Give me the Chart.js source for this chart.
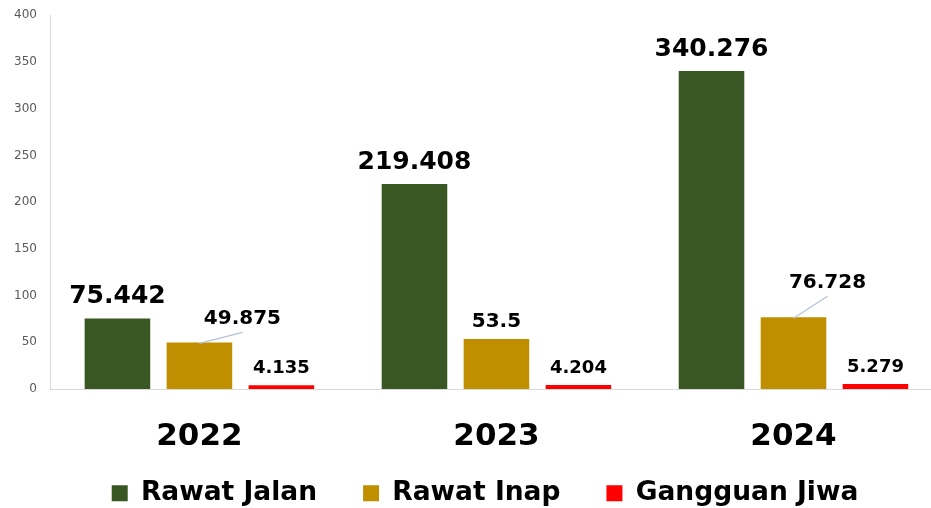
<!DOCTYPE html>
<html>
<head>
<meta charset="utf-8">
<script src="https://cdn.jsdelivr.net/npm/chart.js@4/dist/chart.umd.min.js"></script>
<style>
  html, body { margin: 0; padding: 0; background: #ffffff; overflow: hidden; }
  #wrap { width: 942px; height: 508px; overflow: hidden; position: relative; }
  #c { position: absolute; left: 0; top: -6px; }
</style>
</head>
<body>
<div id="wrap"><canvas id="c" width="942" height="514"></canvas></div>
<script>
// ---- data ----
const categories = ['2022', '2023', '2024'];
const seriesNames = ['Rawat Jalan', 'Rawat Inap', 'Gangguan Jiwa'];
const rawatJalan = [75.442, 219.408, 340.276];
const rawatInap = [49.875, 53.5, 76.728];
const gangguanJiwa = [4.135, 4.204, 5.279];
const yMin = 0, yMax = 400, yStep = 50;

// ---- styling ----
const colors = ['#385723', '#bf8f00', '#ff0000'];
const labelFonts = [25, 20, 18];     // data-label font size per series
const labelGaps = [15, 12, 12];      // gap between bar top and label baseline
// manual label offsets (series index -> category index -> [dx, dyExtra, leader])
const labelOffsets = {
  1: { 0: [43, 6, true], 2: [34, 17, true] }
};
const legendTop = 440;     // where the legend box should start (canvas coords)
const legendShiftX = 14;   // horizontal nudge of the legend row

const dataLabelPlugin = {
  id: 'dataLabels',
  afterDatasetsDraw(chart) {
    const ctx = chart.ctx;
    chart.data.datasets.forEach((ds, di) => {
      const meta = chart.getDatasetMeta(di);
      meta.data.forEach((el, i) => {
        const v = ds.data[i];
        const off = (labelOffsets[di] && labelOffsets[di][i]) || [0, 0, false];
        const x = el.x + off[0];
        const y = el.y - labelGaps[di] - off[1];
        ctx.save();
        if (off[2]) {
          ctx.strokeStyle = '#b4c1d6';
          ctx.lineWidth = 1.2;
          ctx.beginPath();
          ctx.moveTo(el.x, el.y + 1);
          ctx.lineTo(x, y + 8);
          ctx.stroke();
        }
        ctx.font = 'bold ' + labelFonts[di] + 'px "DejaVu Sans"';
        ctx.fillStyle = '#000000';
        ctx.textAlign = 'center';
        ctx.textBaseline = 'alphabetic';
        ctx.fillText(String(v), x, y);
        ctx.restore();
      });
    });
  }
};

const legendPlacePlugin = {
  id: 'legendPlace',
  afterLayout(chart) {
    const lg = chart.legend;
    if (!lg) return;
    const dy = legendTop - lg.top;
    lg.top += dy; lg.bottom += dy;
    lg.left += legendShiftX; lg.right += legendShiftX;
  }
};

new Chart(document.getElementById('c'), {
  type: 'bar',
  data: {
    labels: categories,
    datasets: [
      { label: seriesNames[0], data: rawatJalan, backgroundColor: colors[0] },
      { label: seriesNames[1], data: rawatInap, backgroundColor: colors[1] },
      { label: seriesNames[2], data: gangguanJiwa, backgroundColor: colors[2] }
    ]
  },
  options: {
    responsive: false,
    animation: false,
    categoryPercentage: 0.828,
    barPercentage: 0.8,
    layout: { padding: { left: 0, right: 0, top: 14, bottom: -59.5 } },
    scales: {
      x: {
        grid: { display: false, drawTicks: false },
        border: { display: true, color: '#d9d9d9', width: 1 },
        ticks: {
          color: '#000000',
          padding: 29.4,
          font: { family: '"DejaVu Sans"', size: 31, weight: 'bold' }
        }
      },
      y: {
        min: yMin, max: yMax,
        grid: { display: false, drawTicks: false },
        border: { display: true, color: '#d9d9d9', width: 1 },
        ticks: {
          stepSize: yStep,
          color: '#595959',
          padding: 14,
          font: { family: '"DejaVu Sans"', size: 12 }
        }
      }
    },
    plugins: {
      legend: {
        position: 'bottom',
        labels: {
          color: '#000000',
          boxWidth: 16,
          boxHeight: 16,
          padding: 46,
          font: { family: '"DejaVu Sans"', size: 26.5, weight: 'bold' }
        }
      },
      tooltip: { enabled: false }
    }
  },
  plugins: [dataLabelPlugin, legendPlacePlugin]
});
</script>
</body>
</html>
